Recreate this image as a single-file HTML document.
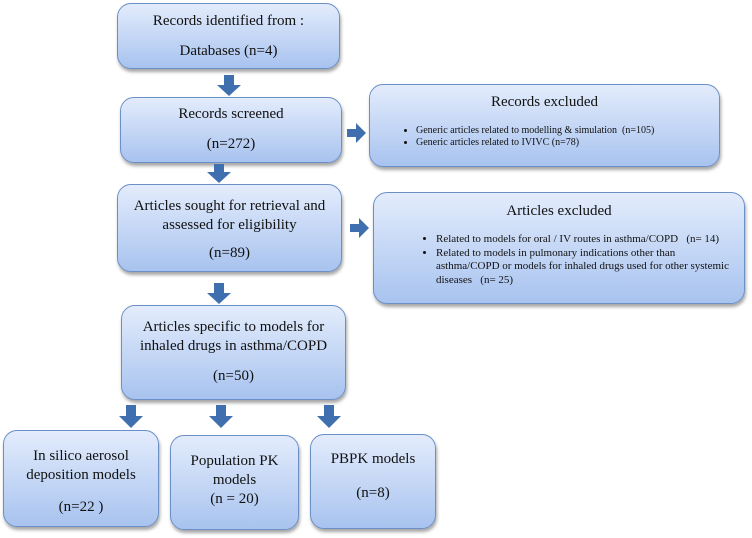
<!DOCTYPE html><html><head><style>
body{margin:0;width:752px;height:538px;background:#fff;position:relative;overflow:hidden;font-family:"Liberation Serif",serif;color:#111}
.b{position:absolute;box-sizing:border-box;border:1.5px solid #6b90c6;border-radius:14px;background:linear-gradient(#e3ecfc,#a8c3ef);box-shadow:1px 3px 3px rgba(0,0,0,.35);text-align:center;font-size:15px}
.b p{margin:0;position:absolute;left:0;right:0}
ul{margin:0;padding-left:40px;font-size:10px;text-align:left;line-height:12px;white-space:nowrap}
li{margin:0}
</style></head><body>
<div class="b" style="left:117px;top:3px;width:223px;height:66px"><p style="top:9px">Records identified from :</p><p style="top:39px">Databases (n=4)</p></div>
<div class="b" style="left:120px;top:97px;width:222px;height:66px"><p style="top:8px">Records screened</p><p style="top:38px">(n=272)</p></div>
<div class="b" style="left:369px;top:84px;width:351px;height:83px"><p style="top:9px">Records excluded</p>
<ul style="position:absolute;top:40px;left:6px;font-size:10px"><li>Generic articles related to modelling &amp; simulation &nbsp;(n=105)</li><li>Generic articles related to IVIVC (n=78)</li></ul></div>
<div class="b" style="left:117px;top:184px;width:225px;height:88px"><p style="top:12px;line-height:19px">Articles sought for retrieval and<br>assessed for eligibility</p><p style="top:60px">(n=89)</p></div>
<div class="b" style="left:373px;top:192px;width:372px;height:112px"><p style="top:10px">Articles excluded</p>
<ul style="position:absolute;top:40px;left:22px;font-size:11px;line-height:13.5px"><li>Related to models for oral / IV routes in asthma/COPD &nbsp;&nbsp;(n= 14)</li><li>Related to models in pulmonary indications other than<br>asthma/COPD or models for inhaled drugs used for other systemic<br>diseases &nbsp;&nbsp;(n= 25)</li></ul></div>
<div class="b" style="left:121px;top:305px;width:225px;height:95px"><p style="top:12px;line-height:19px">Articles specific to models for<br>inhaled drugs in asthma/COPD</p><p style="top:62px">(n=50)</p></div>
<div class="b" style="left:3px;top:430px;width:156px;height:97px"><p style="top:16px;line-height:19px">In silico aerosol<br>deposition models</p><p style="top:68px">(n=22 )</p></div>
<div class="b" style="left:170px;top:435px;width:129px;height:95px"><p style="top:16px;line-height:19px">Population PK<br>models<br>(n = 20)</p></div>
<div class="b" style="left:310px;top:434px;width:126px;height:95px"><p style="top:16px">PBPK models</p><p style="top:50px">(n=8)</p></div>
<svg width="752" height="538" style="position:absolute;left:0;top:0" fill="#3f6fae">
<path d="M224 75h10v10h7l-12 11-12-11h7z"/>
<path d="M214 164h10v8h7l-12 11-12-11h7z"/>
<path d="M214 283h10v10h7l-12 11-12-11h7z"/>
<path d="M126 405h10v11h7l-12 12-12-12h7z"/>
<path d="M216 405h10v11h7l-12 12-12-12h7z"/>
<path d="M324 405h10v11h7l-12 12-12-12h7z"/>
<path d="M347 129h9v-6l10 10-10 10v-6h-9z"/>
<path d="M350 224h9v-6l10 10-10 10v-6h-9z"/>
</svg>
</body></html>
